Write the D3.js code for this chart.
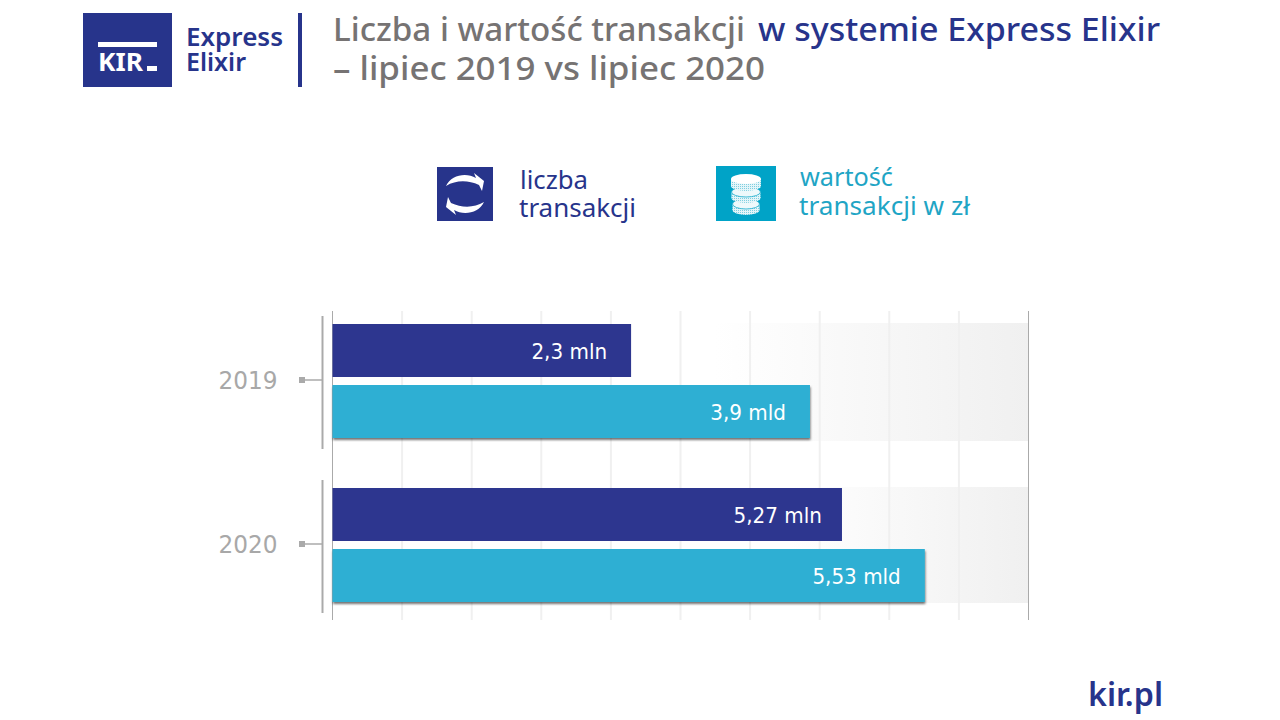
<!DOCTYPE html>
<html lang="pl">
<head>
<meta charset="utf-8">
<title>Express Elixir</title>
<script src="https://cdn.jsdelivr.net/npm/d3@7"></script>
<style>
  html, body { margin: 0; padding: 0; background: #fff; }
  svg { display: block; }
  text { font-family: "Noto Sans", sans-serif; }
</style>
</head>
<body>
<div id="chart"></div>
<script>
// data: the bars are not to scale in the original, so lengths are read off the grid (0-10)
const years = ['2019', '2020'];
const series = ['liczba', 'wartosc'];
const liczbaLengths = [4.29, 7.32];
const wartoscLengths = [6.86, 8.51];
const liczbaLabels = ['2,3 mln', '5,27 mln'];
const wartoscLabels = ['3,9 mld', '5,53 mld'];
const gridTicks = [0, 1, 2, 3, 4, 5, 6, 7, 8, 9, 10];

const NAVY = '#2d368f';
const LOGO_NAVY = '#27348b';
const TEAL = '#2dafd3';
const ICON_TEAL = '#00a3c7';
const GREY = '#767373';

const svg = d3.select('#chart').append('svg')
  .attr('width', 1280)
  .attr('height', 720)
  .attr('viewBox', '0 0 1280 720');

const defs = svg.append('defs');

// background band gradients, they fade in from the left
[['band2019', 715], ['band2020', 790]].forEach(([id, start]) => {
  const grad = defs.append('linearGradient')
    .attr('id', id)
    .attr('gradientUnits', 'userSpaceOnUse')
    .attr('x1', start).attr('x2', 1029)
    .attr('y1', 0).attr('y2', 0);
  grad.append('stop').attr('offset', 0).attr('stop-color', '#ffffff');
  grad.append('stop').attr('offset', 1).attr('stop-color', '#f0f0f0');
});

const shadow = defs.append('filter')
  .attr('id', 'barShadow')
  .attr('x', '-5%').attr('y', '-10%')
  .attr('width', '110%').attr('height', '125%');
shadow.append('feDropShadow')
  .attr('dx', 0.5).attr('dy', 2)
  .attr('stdDeviation', 1.3)
  .attr('flood-color', '#000')
  .attr('flood-opacity', 0.55);

// speckled fill of the coins
const speckle = defs.append('pattern')
  .attr('id', 'speckle')
  .attr('patternUnits', 'userSpaceOnUse')
  .attr('width', 2).attr('height', 2);
speckle.append('rect').attr('width', 2).attr('height', 2).attr('fill', '#e4f5f9');
speckle.append('rect').attr('width', 1).attr('height', 1).attr('fill', '#7fcfe0');

// scales
const x = d3.scaleLinear().domain([0, 10]).range([332.5, 1028.5]);
const yYear = d3.scalePoint().domain(years).range([381, 545]);
const yBar = d3.scaleBand().domain(series).range([-57, 57]).paddingInner(8 / 61);

// text helper, squeezes the text to the given width
const addText = (parent, x0, y0, size, weight, color, str, len) => {
  const t = parent.append('text')
    .attr('x', x0).attr('y', y0)
    .attr('font-size', size).attr('font-weight', weight).attr('fill', color)
    .text(str);
  if (len) t.attr('textLength', len).attr('lengthAdjust', 'spacingAndGlyphs');
  return t;
};

// header
const logo = svg.append('g');
logo.append('rect').attr('x', 83).attr('y', 13).attr('width', 89).attr('height', 74).attr('fill', LOGO_NAVY);
logo.append('rect').attr('x', 98).attr('y', 42).attr('width', 59).attr('height', 5).attr('fill', '#fff');
addText(logo, 98, 71, 25, 700, '#fff', 'KIR', 45);
logo.append('rect').attr('x', 147).attr('y', 66).attr('width', 10).attr('height', 5).attr('fill', '#fff');
addText(logo, 186, 46, 26, 600, LOGO_NAVY, 'Express', 97);
addText(logo, 186, 71, 26, 600, LOGO_NAVY, 'Elixir', 60);
logo.append('rect').attr('x', 298).attr('y', 13).attr('width', 4).attr('height', 74).attr('fill', LOGO_NAVY);

addText(svg, 333, 41, 33, 500, GREY, 'Liczba i wartość transakcji', 412);
addText(svg, 758, 41, 33, 500, LOGO_NAVY, 'w systemie Express Elixir', 402);
addText(svg, 333, 80, 33, 500, GREY, '– lipiec 2019 vs lipiec 2020', 432);

// legend
const legend = svg.append('g');
legend.append('rect').attr('x', 437).attr('y', 167).attr('width', 56).attr('height', 54).attr('fill', LOGO_NAVY);
legend.append('path')
  .attr('fill', '#fff')
  .attr('d', 'M446 186 C451 175 466 172 476 178 L474 173 L484 181 L482 191 L479 185 C468 180 456 180 446 186 Z');
legend.append('path')
  .attr('fill', '#fff')
  .attr('d', 'M484 202 C479 213 464 216 454 210 L456 215 L446 207 L448 197 L451 203 C462 208 474 208 484 202 Z');
legend.append('rect').attr('x', 716).attr('y', 166).attr('width', 60).attr('height', 55).attr('fill', ICON_TEAL);
[[746, 204, 13.5], [746, 192, 14.5]].forEach(d => {
  legend.append('rect').attr('x', d[0] - d[2]).attr('y', d[1]).attr('width', d[2] * 2).attr('height', 6).attr('fill', 'url(#speckle)');
  legend.append('ellipse').attr('cx', d[0]).attr('cy', d[1] + 6).attr('rx', d[2]).attr('ry', 5).attr('fill', 'url(#speckle)');
  legend.append('ellipse').attr('cx', d[0]).attr('cy', d[1]).attr('rx', d[2]).attr('ry', 5)
    .attr('fill', '#eef9fb').attr('stroke', ICON_TEAL).attr('stroke-width', 0.7);
});
legend.append('path')
  .attr('fill', 'url(#speckle)')
  .attr('d', 'M731 179 L731 186 A15 5 0 0 0 761 186 L761 179 Z');
legend.append('ellipse').attr('cx', 746).attr('cy', 179).attr('rx', 15).attr('ry', 5).attr('fill', '#fff');
addText(legend, 520, 189, 25, 400, LOGO_NAVY, 'liczba', 68);
addText(legend, 519, 217, 25, 400, LOGO_NAVY, 'transakcji', 117);
addText(legend, 800, 186, 25, 400, '#1fa5c5', 'wartość', 93);
addText(legend, 799, 215, 25, 400, '#1fa5c5', 'transakcji w zł', 171);

// chart backgrounds
svg.append('g').selectAll('rect')
  .data(years)
  .join('rect')
  .attr('x', x(0))
  .attr('y', d => yYear(d) - 58)
  .attr('width', x(10) - x(0))
  .attr('height', d => d === '2019' ? 118 : 116)
  .attr('fill', d => `url(#band${d})`);

// grid
const grid = svg.append('g')
  .attr('transform', 'translate(0,620)')
  .call(d3.axisBottom(x).tickValues(gridTicks).tickSize(-309).tickFormat('').offset(0));
grid.select('.domain').remove();
grid.selectAll('.tick line')
  .attr('stroke', d => (d === 0 || d === 10) ? '#aaaaaa' : '#f0f0f0')
  .attr('stroke-width', d => (d === 0 || d === 10) ? 1 : 2);

// bars
const yearG = svg.append('g').selectAll('g')
  .data(years)
  .join('g')
  .attr('transform', d => `translate(0,${yYear(d)})`);

yearG.each(function (year, i) {
  const g = d3.select(this);
  const rows = [
    { s: 'liczba', len: liczbaLengths[i], label: liczbaLabels[i] },
    { s: 'wartosc', len: wartoscLengths[i], label: wartoscLabels[i] }
  ];

  g.selectAll('rect')
    .data(rows)
    .join('rect')
    .attr('x', x(0))
    .attr('y', d => yBar(d.s))
    .attr('width', d => x(d.len) - x(0))
    .attr('height', yBar.bandwidth())
    .attr('fill', d => d.s === 'liczba' ? NAVY : TEAL)
    .attr('filter', d => d.s === 'wartosc' ? 'url(#barShadow)' : null);

  g.selectAll('text.value')
    .data(rows)
    .join('text')
    .attr('class', 'value')
    .attr('x', d => x(d.len) - (d.label === '5,27 mln' ? 20 : 24))
    .attr('y', d => yBar(d.s) + yBar.bandwidth() / 2 + 8.5)
    .attr('text-anchor', 'end')
    .style('font-family', '"DejaVu Sans", sans-serif')
    .attr('font-size', 21)
    .attr('fill', '#fff')
    .text(d => d.label)
    .each(function () {
      // original face is a bit narrower than DejaVu
      d3.select(this)
        .attr('textLength', this.getComputedTextLength() * 0.95)
        .attr('lengthAdjust', 'spacingAndGlyphs');
    });

  // year bracket on the left
  g.append('line').attr('x1', 322.5).attr('x2', 322.5).attr('y1', -65).attr('y2', 68)
    .attr('stroke', '#aaaaaa').attr('stroke-width', 2);
  g.append('line').attr('x1', 302).attr('x2', 322).attr('y1', -1).attr('y2', -1)
    .attr('stroke', '#aaaaaa').attr('stroke-width', 1.5);
  g.append('rect').attr('x', 299).attr('y', -4).attr('width', 6).attr('height', 6).attr('fill', '#aaaaaa');
  g.append('text').attr('x', 218.5).attr('y', 8)
    .style('font-family', '"DejaVu Sans", sans-serif')
    .attr('font-size', 24).attr('fill', '#a8a8a8')
    .attr('textLength', 59).attr('lengthAdjust', 'spacingAndGlyphs')
    .text(year);
});

// footer
addText(svg, 1088, 706, 33, 600, LOGO_NAVY, 'kir.pl', 75);
</script>
</body>
</html>
